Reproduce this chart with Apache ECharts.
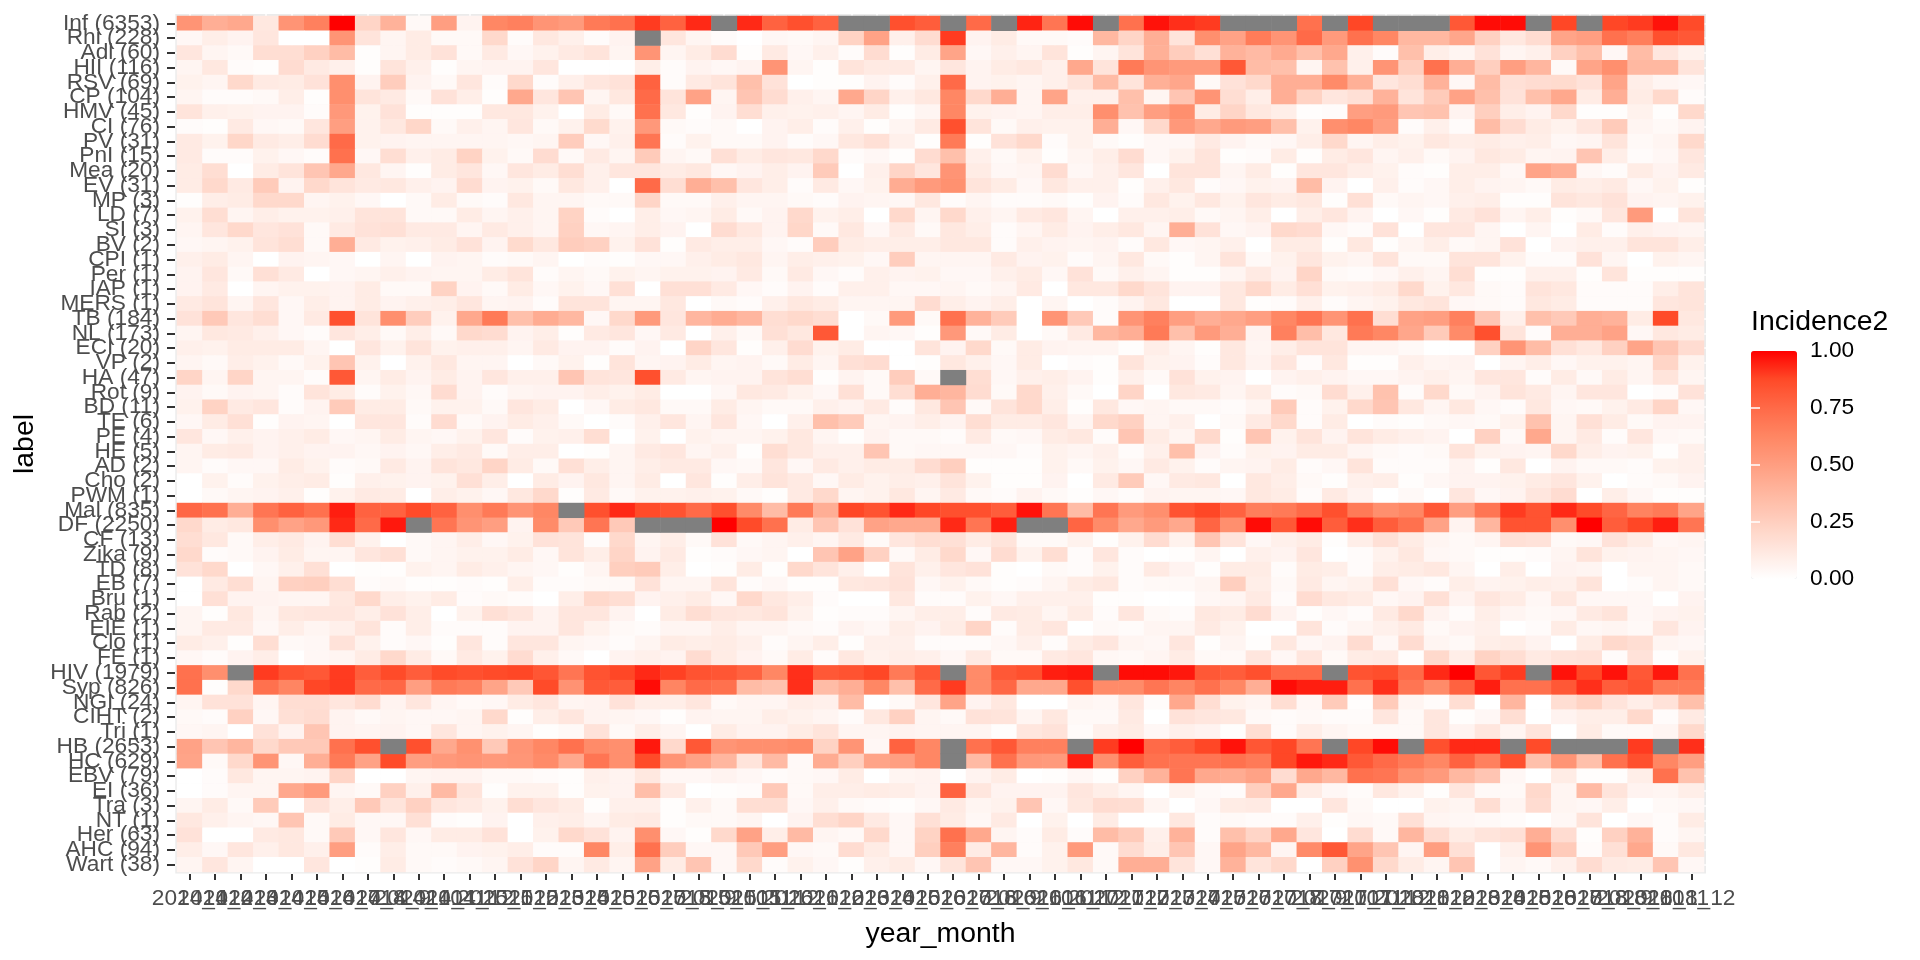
<!DOCTYPE html>
<html>
<head>
<meta charset="utf-8">
<title>Incidence2</title>
<script src="https://cdn.jsdelivr.net/npm/echarts@6/dist/echarts.min.js"></script>
<style>
  html, body { margin: 0; padding: 0; background: #fff; }
  #chart { width: 1920px; height: 960px; }
</style>
</head>
<body>
<div id="chart"></div>
<script>
// x轴：年_月
const xLabels = [
  '2014_1','2014_2','2014_3','2014_4','2014_5','2014_6','2014_7','2014_8','2014_9','2014_10','2014_11','2014_12',
  '2015_1','2015_2','2015_3','2015_4','2015_5','2015_6','2015_7','2015_8','2015_9','2015_10','2015_11','2015_12',
  '2016_1','2016_2','2016_3','2016_4','2016_5','2016_6','2016_7','2016_8','2016_9','2016_10','2016_11','2016_12',
  '2017_1','2017_2','2017_3','2017_4','2017_5','2017_6','2017_7','2017_8','2017_9','2017_10','2017_11','2017_12',
  '2018_1','2018_2','2018_3','2018_4','2018_5','2018_6','2018_7','2018_8','2018_9','2018_10','2018_11','2018_12'
]
// y轴：病种（病例数）
const yLabels = [
  'Inf (6353)','Rhi (228)','Adl (60)','HII (116)','RSV (69)','CP (104)','HMV (45)','CI (76)','PV (31)','PnI (15)',
  'Mea (20)','EV (31)','MP (3)','LD (7)','SI (3)','BV (2)','CPI (1)','Per (1)','IAP (1)','MERS (1)',
  'TB (184)','NL (173)','ECI (20)','VP (2)','HA (47)','Rot (9)','BD (11)','TE (6)','PE (4)','HE (5)',
  'AD (2)','Cho (2)','PWM (1)','Mal (835)','DF (2250)','CF (13)','Zika (9)','TD (8)','EB (7)','Bru (1)',
  'Rab (2)','EIE (1)','Clo (1)','FE (1)','HIV (1979)','Syp (826)','NGI (24)','CIHT (2)','Tri (1)','HB (2653)',
  'HC (629)','EBV (79)','EI (36)','Tra (3)','NT (1)','Her (63)','AHC (94)','Wart (38)'
]
const legendTicks = [0, 0.25, 0.5, 0.75, 1]

// 每行 60 个月，null 为缺失值（灰色）
const rowInf = [.55,.42,.45,.12,.55,.65,1,.22,.4,.03,.5,.06,.62,.65,.55,.52,.68,.72,.9,.78,.93,null,.93,.78,.85,.78,null,null,.85,.8,null,.75,null,.94,.7,.98,null,.72,.97,.92,.9,null,null,null,.72,null,.88,null,null,null,.82,.98,.98,null,.88,null,.88,.9,.97,.87]
const rowRhi = [.04,.09,.06,.13,0,0,.55,.14,.05,.1,.03,.03,.2,.02,.12,.08,.02,.06,null,.13,.05,.02,0,.04,.03,.05,.23,.48,.08,.18,.9,.06,.1,.03,.03,.02,.37,.22,.42,.14,.58,.48,.67,.55,.75,.52,.72,.62,.37,.37,.46,.24,.12,.18,.47,.5,.72,.66,.85,.82]
const rowAdl = [.13,.05,.03,.17,.17,.24,.35,.01,.05,.1,.15,.03,.11,.04,.07,.11,.14,.05,.55,.05,.1,.18,.01,.11,.04,.08,.02,.18,.01,.1,.47,.04,.08,.05,.14,.01,.05,.14,.41,.26,.16,.4,.36,.44,.33,.45,.08,.02,.33,.09,.05,.15,.05,.08,.24,.33,.04,.35,.13,.07]
const rowHII = [.05,.12,.02,.01,.18,.11,.08,.01,.14,.08,.01,.05,.06,.06,.13,0,0,0,.09,.02,.06,.04,.06,.55,.05,.01,.14,.11,.11,.05,.13,.06,.1,.12,.08,.45,.14,.68,.55,.52,.52,.82,.35,.33,.05,.32,.08,.55,.25,.72,.42,.25,.5,.38,.03,.47,.58,.37,.37,.14]
const rowRSV = [.07,.05,.2,.11,.1,.15,.58,.06,.26,.06,.03,.13,.02,.2,.02,.08,.13,.15,.78,.02,.11,.14,.33,.15,0,.01,.01,.06,.02,.08,.75,.06,.07,.05,.08,.14,.35,.14,.41,.46,.03,.15,.2,.42,.42,.6,.41,.13,.17,.4,.04,.35,.16,.18,.19,.15,.47,.09,.05,.04]
const rowCP = [.05,.02,.02,.03,.09,.01,.58,.14,.11,.03,.15,.09,.01,.45,.13,.3,.05,.12,.75,.14,.48,.05,.3,.18,.08,.05,.45,.22,.08,.12,.62,.2,.42,.05,.47,.08,.08,.33,.05,.3,.55,.17,.09,.42,.23,.13,.16,.4,.14,.27,.48,.33,.15,.33,.45,.1,.42,.1,.2,.02]
const rowHMV = [.14,.08,.07,.06,.06,.02,.53,.07,.15,.01,.01,.01,.12,.12,.07,0,.1,.03,.72,.12,.01,.06,.17,.08,.07,.08,.05,.1,.01,.05,.62,.07,.06,.05,.09,.09,.58,.32,.5,.58,.1,.22,.12,.09,.01,.02,.5,.52,.3,.32,.06,.25,.09,.06,.2,.01,.01,.07,.01,.2]
const rowCI = [.02,.01,.11,.04,.03,.13,.5,.07,.12,.21,.03,.08,.05,.13,.03,.07,.19,.07,.53,.03,.02,.03,0,.06,.09,.02,.08,.01,.05,.11,.85,.14,.03,.08,.07,.07,.42,.04,.2,.53,.45,.52,.5,.33,.07,.58,.62,.5,.02,.08,.02,.35,.18,.1,.07,.13,.27,.05,.03,.06]
const rowPV = [.11,.07,.21,.11,.09,.18,.75,.07,.06,.05,.05,.05,.05,.04,.05,.26,.04,.08,.7,.02,.07,.03,.03,.06,.02,.04,.12,.16,.08,.01,.68,.01,.15,.2,.02,.07,.03,.01,.04,.04,.11,.06,.03,.04,.09,.2,.05,.09,.07,.12,.09,.1,.08,.09,.04,.05,.14,.03,.05,.2]
const rowPnI = [.11,.02,.02,.07,.04,.02,.72,.04,.17,.08,.1,.23,.07,.03,.18,.03,.11,.05,.27,.05,.03,.16,.1,.13,.12,.2,.02,.04,.01,.18,.33,.08,.03,.07,.01,.05,.09,.18,.04,.07,.14,.01,.02,.1,.01,.1,.13,.05,.08,.03,.06,.12,.1,.05,.06,.3,.09,.02,.04,.13]
const rowMea = [.1,.17,0,.1,.14,.3,.45,.12,.05,.01,.1,.13,.04,.13,.1,.17,.08,.13,.13,.1,.12,.04,.06,.09,.06,.27,0,.08,.22,.13,.55,.1,.04,.05,.18,.04,.08,.13,0,.14,.14,.05,.1,.01,.13,.13,.09,.07,.02,.01,.09,.09,.04,.47,.42,.04,.02,.1,.06,.11]
const rowEV = [.1,.2,.11,.27,.06,.2,.14,.11,.12,.08,.06,.18,.06,.07,.03,.12,.08,0,.75,.17,.42,.33,.13,.09,.02,.11,.04,.07,.43,.52,.57,.14,.1,.04,.12,.08,.08,.01,.08,.12,.02,.04,.07,.06,.35,.06,0,.08,.02,.04,.09,.06,.05,.03,.1,.09,.11,.04,.07,.01]
const rowMP = [.01,.09,.1,.2,.2,.05,.07,.04,0,.03,.1,.03,.02,.12,.05,.05,.03,.03,.22,.03,.03,.08,.05,.05,.03,.02,.06,.05,.04,.12,.02,.05,.02,.02,.03,.01,.06,.02,.12,.07,.12,.07,.13,.1,.12,.01,.16,.03,.05,.04,.08,.09,.01,.01,.14,.12,.15,.06,.05,.07]
const rowLD = [.07,.17,.05,.09,.07,.07,.08,.14,.14,.03,.03,.1,.05,.08,.05,.23,.02,0,.09,.04,.05,.1,.03,.06,.2,.07,.09,0,.2,.05,.2,.08,.05,.11,.13,.05,0,.08,.08,.09,.03,.05,.09,0,.09,.13,.06,0,.04,.01,.11,.15,.05,.09,.01,.03,.13,.52,0,.14]
const rowSI = [.05,.13,.2,.13,.15,.03,.11,.15,.16,.11,.11,.05,.11,.08,.05,.24,.04,.05,.09,.06,0,.18,.12,.06,.21,.03,.12,.04,.11,.03,.12,.09,.02,.05,.1,.06,.09,.12,.05,.42,.15,.04,.06,.2,.18,.04,.02,.15,0,.13,.13,.05,0,.05,0,.1,.02,.08,.06,.05]
const rowBV = [.04,.05,.07,.14,.17,.03,.42,.11,.07,.08,.1,.15,.06,.19,.12,.26,.24,.07,.15,.01,.11,.09,.09,.04,.02,.26,.1,.09,.09,.09,.12,.12,.02,.08,.06,.05,.06,.02,.12,.04,.05,.08,0,.1,.1,.01,.12,.01,.05,.09,.03,.05,.15,0,.06,.08,.08,.14,.14,.09]
const rowCPI = [.08,.1,.05,0,.06,.05,.04,0,.05,0,.06,.05,.02,.03,.05,0,.02,.01,.04,.04,.08,.1,.12,.05,.09,.08,.07,.04,.26,.05,.05,.05,.11,.06,.07,.02,.05,.12,.03,.01,.05,.14,.03,.07,.13,.07,.05,.14,.03,.03,.14,.14,.07,.02,.02,.15,.05,0,.07,.05]
const rowPer = [.06,.13,.03,.16,.11,0,.04,.05,.08,.06,.05,.05,.1,.14,.02,.05,.03,.07,.05,.07,.07,.06,.11,.03,.11,.04,.02,.08,.06,.07,.04,.04,.08,.1,.04,.15,.03,.08,.05,.01,.01,.05,.11,.06,.22,.03,.02,.04,.08,.05,.17,.01,.01,.08,.08,.01,.14,.01,.01,.01]
const rowIAP = [.06,.11,0,.05,.07,.07,.06,.1,.03,.03,.23,.06,.03,.1,.04,.07,.04,.16,0,.16,.16,.11,.04,.02,.06,.02,.08,.08,.04,.04,.05,.03,.05,.11,0,.12,.12,.2,.14,.06,.06,.12,.2,.1,.16,.07,.08,.1,.2,.07,.12,.03,.02,.14,.12,.02,.02,.02,.09,.14]
const rowMERS = [.11,.14,.05,.13,.04,.09,.06,.1,.06,.08,.09,.13,.05,.06,.02,.14,.14,.05,.05,.12,0,.03,.02,.08,.12,.1,.05,.05,.05,.18,.09,.06,.09,0,.05,0,.02,.06,.12,0,0,.12,.01,.02,.08,.02,.05,.07,.12,.14,.04,.03,.02,.12,.1,.02,.02,.02,.13,.14]
const rowTB = [.15,.28,.13,.17,.04,.11,.85,.14,.58,.26,.07,.45,.68,.33,.43,.37,.04,.2,.52,.13,.38,.43,.38,.17,.2,.17,0,.03,.52,.03,.72,.4,.27,0,.55,.28,.02,.55,.65,.5,.42,.45,.5,.62,.7,.55,.72,.17,.48,.5,.65,.3,.08,.33,.28,.42,.4,.1,.87,.12]
const rowNL = [.05,.12,.11,.08,.04,.02,.13,.09,.03,.09,.03,.2,.18,.06,.09,.01,.11,.13,.04,.11,0,.08,.03,.16,.12,.82,0,.05,.04,.01,.53,.03,.1,0,.03,.11,.37,.42,.68,.33,.52,.42,.06,.65,.34,.12,.68,.62,.46,.27,.6,.85,.14,.02,.42,.42,.48,.04,.12,.1]
const rowECI = [.08,.07,.1,.1,.1,.05,0,.13,.07,.14,.07,.08,.08,.05,.11,.06,.06,.02,.06,0,.22,.13,.01,.08,.18,.07,.1,0,0,.14,.06,.2,.03,.1,.06,.05,.05,.01,.09,.05,.01,.12,.05,.09,.14,.14,.05,.05,.03,0,0,.24,.55,.35,.16,.12,.24,.47,.3,.18]
const rowVP = [.05,.03,.09,.07,.03,.07,.3,.07,0,.07,.12,.05,.05,0,.03,.07,.01,.14,.05,.06,.1,.05,.06,.03,.1,.05,.16,.18,0,.01,.12,.08,.04,.1,0,.02,.01,.14,.07,.06,.02,.12,.06,.13,.02,.12,.01,.01,.08,.05,.06,0,.05,.09,.04,.07,.07,.05,.22,.07]
const rowHA = [.22,.05,.22,.05,.05,.02,.82,.05,.1,.06,.1,.06,.13,.08,.08,.3,.14,.13,.85,.11,.05,.06,.06,.14,.17,.01,.06,.03,.26,.03,null,.17,.04,.08,.09,.06,.01,.08,.03,.15,.07,.06,0,.06,.08,.06,.04,.04,.06,.08,.05,.13,.13,.02,.1,.03,.1,.05,.14,.05]
const rowRot = [.06,.03,.06,.05,.02,.14,.1,.02,.07,.04,.18,.06,.02,.05,.06,.06,.09,.07,.1,0,0,.04,.12,.11,.07,.04,.16,.03,.17,.42,.38,.18,.03,.2,.08,.03,0,.22,0,.12,.11,.05,.1,.02,.03,.18,.08,.32,.02,.2,.03,.06,.14,.11,.05,.13,.13,0,.02,.15]
const rowBD = [.07,.23,.11,.13,.02,.06,.27,.1,.1,.03,.07,.07,.03,.13,.1,0,.04,.1,.12,.03,.03,.1,.05,.03,.03,.08,.06,.11,.02,.12,.3,.03,.14,.2,.09,.01,.12,.04,.05,.03,.03,.02,.05,.27,.02,.07,.2,.3,.12,.05,.12,.04,.02,.12,.04,.03,.07,.11,.22,.04]
const rowTE = [.04,.1,.16,.01,.06,.05,0,.13,.13,.02,.18,.03,.06,.1,.08,.03,0,.02,.08,.13,.05,.13,.04,0,.08,.33,.27,.05,.06,.09,.06,.17,.1,.1,.13,.05,.2,.24,.05,.08,0,.03,.11,.2,.02,.1,0,.02,.01,.03,.04,.03,.07,.32,.05,.16,.1,.03,.06,.06]
const rowPE = [.13,.04,.08,.06,.08,.1,.04,.05,.1,.05,.04,.07,.13,.02,.07,.08,.17,0,.07,0,.07,.05,.05,.07,.12,.05,.01,.06,.03,.03,.02,.11,.03,.04,.1,.12,.02,.3,.1,.05,.2,.01,.3,.07,.14,.06,.14,.1,.08,.06,0,.24,.03,.45,.05,.11,.02,.13,.04,.03]
const rowHE = [.05,.1,.11,.06,.08,.06,.06,.04,.06,.04,.09,.11,.03,.09,.09,0,.01,.05,.11,.13,.05,.08,.01,.17,.12,.08,.08,.3,.03,.04,.04,.04,.04,.02,.07,.05,.08,.02,.08,.33,.06,.02,.07,.06,.1,.1,.05,.03,.02,.03,.14,.07,.06,.05,.2,.09,.06,.07,.01,.08]
const rowAD = [.05,.02,.04,.04,.1,.07,.02,.03,.11,.06,.14,.12,.22,.1,.03,.16,.09,.05,.09,.11,.11,.04,.03,.13,.04,.11,.08,.1,.1,.18,.25,.01,.01,.01,.07,.03,.07,.04,.11,.07,.02,.05,.06,.1,.02,.04,.14,.02,.02,.02,.06,.01,.12,0,.06,.03,.03,.02,.07,.08]
const rowCho = [0,.07,.02,.07,.09,.1,.01,.08,.07,.06,.07,.16,.09,0,.1,.06,.12,.05,.1,0,.13,.01,.09,.14,.11,.04,.1,.07,.09,.08,.14,.07,.01,.01,.06,0,.11,.27,.04,.11,.12,0,.12,.09,.03,.01,.08,.09,.01,.04,.06,.06,.07,.1,.13,.07,0,.02,.03,.06]
const rowPWM = [0,.03,.05,.06,.08,.01,.07,.11,.1,0,.09,.07,.04,.12,.2,.01,.11,.03,.07,.07,.08,.07,.03,.01,.11,.2,.05,.07,.12,.05,.11,.03,.02,.06,.03,.01,.04,.02,.06,.05,.05,.04,.12,.1,.02,.11,.06,0,.03,0,.13,.04,.06,.13,.18,0,.09,.04,.01,.01]
const rowMal = [.76,.72,.42,.7,.78,.72,.95,.78,.78,.87,.78,.58,.68,.55,.62,null,.85,.93,.87,.84,.75,.85,.6,.35,.68,.42,.88,.84,.93,.88,.85,.85,.8,.97,.7,.35,.7,.52,.58,.84,.88,.78,.66,.68,.75,.85,.68,.58,.62,.82,.5,.7,.9,.84,.93,.87,.77,.64,.68,.47]
const rowDF = [.2,.1,.12,.58,.48,.53,.93,.75,.96,null,.7,.55,.5,.06,.6,.28,.7,.28,null,null,null,1,.87,.72,.1,.3,.15,.48,.45,.45,.93,.7,.95,null,null,.77,.6,.45,.52,.45,.77,.58,.98,.82,.98,.8,.92,.8,.72,.48,.06,.38,.84,.84,.58,1,.8,.88,.95,.7]
const rowCF = [.17,.12,.03,.09,.11,.06,.17,.07,0,.03,.05,.09,.04,.07,.15,.14,.02,.2,.05,.09,.03,.15,.03,.05,.08,.05,.11,.03,.13,.17,.16,.1,.14,.03,.03,.07,.01,.07,.18,.07,.3,.14,.04,.08,.1,.01,.09,.16,.1,.05,.03,.05,.16,.15,.03,.04,.15,.1,.04,.05]
const rowZika = [.2,.02,.03,.06,.1,.05,.05,.13,.16,.03,.05,.07,.07,.1,.04,.14,.09,.22,.06,.11,.01,.02,.04,.05,0,.3,.48,.24,.03,.1,.2,.04,.18,.07,.17,.02,.13,.02,0,.01,.05,0,.08,.06,.13,0,.02,.07,.12,.04,.03,.01,.01,.02,.05,.14,.07,.06,.05,.04]
const rowTD = [.15,.2,0,.04,.08,.16,0,.01,.01,.07,.05,.1,.08,.05,.04,.01,.05,.25,.27,.09,0,.01,.1,.01,.2,.14,.08,0,.14,.08,.13,.15,.01,0,.03,.02,.07,.02,.11,.06,.01,.1,.1,.02,.1,.09,.02,.09,.1,.12,.05,0,.09,0,.06,.05,0,.05,.05,.03]
const rowEB = [0,.11,.17,.05,.24,.25,.17,.02,.03,.01,.01,.02,.01,.09,.02,.02,.03,.03,.15,.05,.05,.14,.02,.04,.01,.01,.12,.13,.15,.04,.07,.03,.01,.02,.05,.1,.12,.02,.03,.03,.05,.25,.09,.03,.11,.05,.07,.16,.04,.02,.09,.06,.07,.09,.08,.14,0,.02,.05,.03]
const rowBru = [0,.16,.06,.06,.05,.05,.12,.2,.09,.07,.1,.02,.03,.02,0,.09,.2,.17,.06,.08,.1,.04,.2,.12,.09,.02,0,0,.12,.02,.02,.07,.04,.08,.08,.08,.01,.01,0,0,.04,.05,.11,.02,.18,.12,.1,.04,.06,.16,.06,.13,.1,.04,.12,.04,.04,.04,0,.06]
const rowRab = [.05,.01,.12,.05,.12,.13,.13,.09,.15,.09,0,.07,.16,.13,.06,.13,.13,.06,0,.1,.17,.13,.12,.14,.07,.01,.02,.02,.05,.09,.09,.02,.11,.1,.05,.1,.02,.13,.03,.02,.12,.1,.18,.06,.01,.04,.02,.11,.2,.06,.02,.09,.05,.03,.04,.11,.14,.04,.06,.07]
const rowEIE = [.05,.11,.11,.04,.09,.05,.08,.14,.02,.09,.02,.02,.02,.06,.06,.13,.07,.03,.02,.05,.05,.09,.05,.05,.03,.02,.06,.04,.09,.06,.1,.22,.02,.1,.13,0,.03,.02,.05,.05,.11,.07,0,0,.14,.02,.05,.08,.11,.03,.06,.08,0,.02,.1,.04,.05,.03,.13,.06]
const rowClo = [.1,.08,.01,.17,.03,.04,.15,.07,.02,.04,.01,.13,.02,.13,.13,.05,.04,.02,.05,.1,.09,.1,.08,.02,.05,.09,.01,.08,.08,.02,.02,.02,.04,.08,.02,.1,.13,.05,.04,.13,.01,.05,.01,.12,.04,.06,.18,.04,.18,.05,.03,.09,.1,.06,0,.1,.2,.17,.05,.04]
const rowFE = [.04,.02,.06,.09,0,.04,.05,.1,.2,.1,.03,.11,.07,.18,.08,.03,0,.06,.08,.06,.18,.1,.06,.03,.1,.02,.12,.07,.09,.08,.04,.11,.03,.03,.11,.13,.04,.03,.05,.1,.03,.03,.13,.04,.13,.03,.1,.11,.01,.2,.09,.23,.17,.11,.14,.15,.02,.15,.01,.07]
const rowHIV = [.72,.58,null,.9,.84,.82,.9,.8,.87,.8,.87,.85,.87,.88,.83,.7,.84,.88,.93,.89,.84,.83,.78,.62,.92,.82,.84,.88,.68,.82,null,.6,.82,.85,.95,.96,null,.98,.98,.96,.82,.8,.85,.75,.75,null,.84,.86,.75,.93,1,.83,.9,null,.97,.88,.97,.82,.96,.72]
const rowSyp = [.72,.01,.2,.72,.63,.88,.9,.75,.76,.5,.68,.65,.47,.28,.87,.56,.82,.8,.98,.63,.75,.72,.35,.32,.92,.35,.42,.62,.33,.75,.9,.6,.76,.45,.45,.85,.6,.6,.7,.63,.72,.62,.42,.98,.95,.95,.72,.92,.7,.6,.78,.95,.72,.72,.82,.92,.8,.84,.68,.68]
const rowNGI = [.05,.15,.15,.05,.17,.17,.13,.18,.06,.13,.05,.03,.04,.1,.13,.05,.06,.15,.09,.09,.13,.03,.05,.05,.09,.08,.35,0,.03,.13,.47,.06,.12,0,0,.05,.04,.13,.02,.45,.17,.07,.05,.17,.04,.27,.01,.27,.05,.02,.17,0,.38,0,.17,.23,.14,.09,.15,.33]
const rowCIHT = [.03,.02,.24,.04,.16,.18,.06,.03,.05,.04,.04,.05,.2,.01,.09,.13,.06,.05,.04,.01,.06,.05,.05,.09,.07,.05,.02,.12,.24,.05,.03,.15,.14,.05,.12,.03,.03,.11,0,.15,.13,.12,.03,.02,.03,.02,.02,.13,.03,.13,.01,.04,.17,0,.06,.09,.09,.2,.02,.11]
const rowTri = [.04,.05,0,.15,.06,.3,.06,.05,.06,.04,.13,.05,.07,.05,.01,.03,.15,.03,.09,.05,0,.1,.06,.06,.1,.14,.05,.05,.06,.05,.05,.05,.01,.13,.15,.02,.08,.1,.04,.08,.06,.01,.17,.02,.09,.05,.03,.03,.03,.13,.06,.13,.05,.14,0,.1,.03,.03,.05,.2]
const rowHB = [.48,.3,.38,.2,.28,.28,.72,.85,null,.85,.45,.57,.28,.55,.62,.72,.6,.58,.96,.2,.82,.55,.58,.58,.6,.23,.55,.04,.78,.62,null,.72,.82,.65,.65,null,.9,1,.75,.8,.88,.97,.83,.88,.7,null,.88,.98,null,.85,.93,.93,null,.87,null,null,null,.9,null,.92]
const rowHC = [.47,.03,.2,.55,.04,.42,.68,.48,.87,.5,.53,.55,.53,.54,.6,.45,.7,.58,.87,.55,.48,.38,.14,.36,.03,.43,.25,.47,.5,.62,null,.36,.72,.53,.52,.95,.58,.8,.72,.7,.7,.72,.68,.88,.96,.93,.82,.75,.68,.62,.78,.65,.85,.33,.55,.33,.72,.85,.62,.5]
const rowEBV = [0,.02,.12,.05,.05,.06,.22,0,0,.05,.06,.06,.03,.03,.02,.01,.08,.06,.12,.04,.04,.06,.04,.02,.03,.04,.1,0,.05,.06,0,.06,.1,0,.01,.04,.01,.24,.4,.7,.45,.43,.48,.18,.45,.37,.72,.7,.57,.52,.37,.3,.04,0,.1,.01,.01,.09,.72,.32]
const rowEI = [0,.02,.05,.05,.45,.52,.05,.03,.24,.08,.36,.14,.01,.07,.07,.01,.07,.06,.34,.11,0,.01,.02,.28,.03,.09,.09,.1,.09,.06,.78,.13,.06,.06,.06,.13,.09,.05,0,.07,.03,.02,.25,.45,.1,.04,.02,.12,.07,.01,.13,.03,.03,.2,.05,.36,.14,.06,.05,.09]
const rowTra = [.05,.1,.03,.27,0,.15,.09,.28,.14,.24,.13,.11,.07,.17,.13,.1,.01,.08,.08,.01,.08,.03,.17,.17,.04,.08,.03,.02,.01,.04,.11,.05,.07,.3,.04,.12,.18,.17,.05,0,.04,.1,.11,0,0,.13,.03,0,0,.07,.05,.17,.05,.18,.05,.04,.09,0,.03,.04]
const rowNT = [.12,.08,.05,.04,.3,.03,.1,.04,.04,.16,.02,.01,.06,0,.08,.09,.05,.1,.11,.01,.03,.03,.05,0,.06,.17,.22,.11,.04,.16,.1,.04,.11,0,.07,0,.1,0,0,.12,.02,.03,.02,.02,.08,.01,.04,.03,.16,.05,.04,.03,.02,0,.04,.14,0,.04,.02,.1]
const rowHer = [.15,0,0,.11,.12,.03,.28,.04,.13,.04,.1,.1,.15,0,.07,.2,.15,.06,.58,.04,.01,.2,.48,.09,.36,.05,.03,.2,.04,.23,.72,.45,.05,.02,.1,.02,.35,.27,.08,.4,.02,.33,.22,.45,.13,0,.18,.03,.38,.18,.1,.14,.16,.42,.18,.01,.24,.4,.02,.05]
const rowAHC = [.09,.04,.13,.08,.12,.08,.5,.02,.09,.03,.03,.06,.07,.09,.02,.02,.62,.09,.72,.26,.04,.04,.28,.5,.04,.03,.18,.1,.04,.25,.65,.1,.38,.02,.07,.52,.03,.18,.09,.3,.04,.47,.37,.05,.6,.82,.47,.3,.05,.5,.16,0,.08,.55,.27,.02,.16,.45,.03,.12]
const rowWart = [.05,.13,.05,0,0,.13,0,.01,.1,.03,.02,.03,.05,.15,.22,.05,.11,.05,.48,.1,.3,.04,.2,.02,.07,.04,.01,.08,.1,.04,.14,.3,.04,.04,.07,.12,.03,.42,.42,.14,.04,.4,.14,.2,0,.24,.57,.2,.1,.05,.3,0,.05,.03,.08,.18,.11,.1,.3,.04]

const rows = [
  rowInf, rowRhi, rowAdl, rowHII, rowRSV, rowCP, rowHMV, rowCI, rowPV, rowPnI,
  rowMea, rowEV, rowMP, rowLD, rowSI, rowBV, rowCPI, rowPer, rowIAP, rowMERS,
  rowTB, rowNL, rowECI, rowVP, rowHA, rowRot, rowBD, rowTE, rowPE, rowHE,
  rowAD, rowCho, rowPWM, rowMal, rowDF, rowCF, rowZika, rowTD, rowEB, rowBru,
  rowRab, rowEIE, rowClo, rowFE, rowHIV, rowSyp, rowNGI, rowCIHT, rowTri, rowHB,
  rowHC, rowEBV, rowEI, rowTra, rowNT, rowHer, rowAHC, rowWart
]

const fontFamily = '"Liberation Sans", Arial, sans-serif'
const tickFont = 22.7
const titleFont = 28.4
// 只要刻度不要轴线，轴线留着但全透明
const hiddenLine = { show: true, lineStyle: { color: 'rgba(0,0,0,0)' } }

const cells = []
const missing = []
rows.forEach((row, y) => {
  row.forEach((v, x) => {
    if (v === null) {
      missing.push([x, y, 1])
    } else {
      cells.push([x, y, v])
    }
  })
})

const chart = echarts.init(document.getElementById('chart'))
const option = {
  backgroundColor: '#fff',
  animation: false,
  title: {
    text: 'Incidence2',
    left: 1751,
    top: 308,
    padding: 0,
    textStyle: { fontFamily, fontSize: titleFont, fontWeight: 'normal', color: '#000' }
  },
  grid: [
    // 灰底面板，比色块略大一圈
    { left: 175.3, top: 14, width: 1530.7, height: 859.5, show: true, backgroundColor: '#EBEBEB', borderWidth: 0, outerBoundsMode: 'none' },
    // 色块
    { left: 177, top: 16, width: 1527, height: 856, outerBoundsMode: 'none' },
    // 图例刻度
    { left: 1751, top: 351, width: 46, height: 228, outerBoundsMode: 'none' }
  ],
  xAxis: [
    {
      gridIndex: 0, type: 'value', min: -0.567, max: 59.58,
      axisLine: { show: false }, axisLabel: { show: false },
      axisTick: { show: false, customValues: xLabels.map((d, i) => i) },
      splitLine: { show: true, lineStyle: { color: '#fff', width: 1.5 } }
    },
    {
      gridIndex: 1, type: 'category', data: xLabels, offset: 2, z: 10,
      name: 'year_month', nameLocation: 'middle', nameGap: 46,
      nameTextStyle: { fontFamily, fontSize: titleFont, color: '#000' },
      axisLine: hiddenLine,
      axisTick: { show: true, alignWithLabel: true, length: 6, lineStyle: { color: '#333', width: 2 } },
      axisLabel: { interval: 0, margin: 13, hideOverlap: false, fontFamily, fontSize: tickFont, color: '#4D4D4D' },
      splitLine: { show: false }
    },
    { gridIndex: 2, type: 'value', show: false, min: 0, max: 1 }
  ],
  yAxis: [
    {
      gridIndex: 0, type: 'value', inverse: true, min: -0.635, max: 57.6,
      axisLine: { show: false }, axisLabel: { show: false },
      axisTick: { show: false, customValues: yLabels.map((d, i) => i) },
      splitLine: { show: true, lineStyle: { color: '#fff', width: 1.5 } }
    },
    {
      gridIndex: 1, type: 'category', data: yLabels, inverse: true, offset: 2, z: 10,
      name: 'label', nameLocation: 'middle', nameGap: 134,
      nameTextStyle: { fontFamily, fontSize: titleFont, color: '#000' },
      axisLine: hiddenLine,
      axisTick: { show: true, alignWithLabel: true, length: 8, lineStyle: { color: '#333', width: 2 } },
      axisLabel: { interval: 0, margin: 15, padding: [2, 0, 0, 0], hideOverlap: false, fontFamily, fontSize: tickFont, color: '#4D4D4D' },
      splitLine: { show: false }
    },
    {
      gridIndex: 2, type: 'value', position: 'right', min: 0, max: 1, interval: 0.25, z: 10,
      axisLine: hiddenLine,
      axisTick: { show: true, inside: true, length: 9, customValues: [0.25, 0.5, 0.75], lineStyle: { color: '#fff', width: 1.5 } },
      axisLabel: {
        margin: 13, padding: [5, 0, 0, 0], fontFamily, fontSize: tickFont, color: '#000',
        customValues: legendTicks,
        formatter: (v) => v.toFixed(2)
      },
      splitLine: { show: false }
    },
    {
      gridIndex: 2, type: 'value', position: 'left', min: 0, max: 1, interval: 0.25, z: 10,
      axisLine: hiddenLine,
      axisLabel: { show: false },
      axisTick: { show: true, inside: true, length: 9, customValues: [0.25, 0.5, 0.75], lineStyle: { color: '#fff', width: 1.5 } },
      splitLine: { show: false }
    }
  ],
  visualMap: [
    {
      type: 'continuous',
      seriesIndex: 0,
      dimension: 2,
      min: 0,
      max: 1,
      calculable: false,
      hoverLink: false,
      left: 1751,
      top: 351,
      padding: 0,
      itemWidth: 46,
      itemHeight: 228,
      z: 1,
      inRange: {
        color: ['#FFFFFF', '#FFE7DF', '#FFCFBF', '#FFB7A0', '#FF9E81', '#FF8663', '#FF6A48', '#FF4A28', '#FF0000']
      }
    },
    {
      type: 'continuous',
      show: false,
      seriesIndex: 1,
      dimension: 2,
      min: 0,
      max: 1,
      inRange: { color: ['#7F7F7F', '#7F7F7F'] }
    }
  ],
  series: [
    { type: 'heatmap', xAxisIndex: 1, yAxisIndex: 1, data: cells, itemStyle: { borderWidth: 0 }, progressive: 0 },
    { type: 'heatmap', xAxisIndex: 1, yAxisIndex: 1, data: missing, itemStyle: { borderWidth: 0 }, progressive: 0 }
  ]
}
chart.setOption(option)
</script>
</body>
</html>
